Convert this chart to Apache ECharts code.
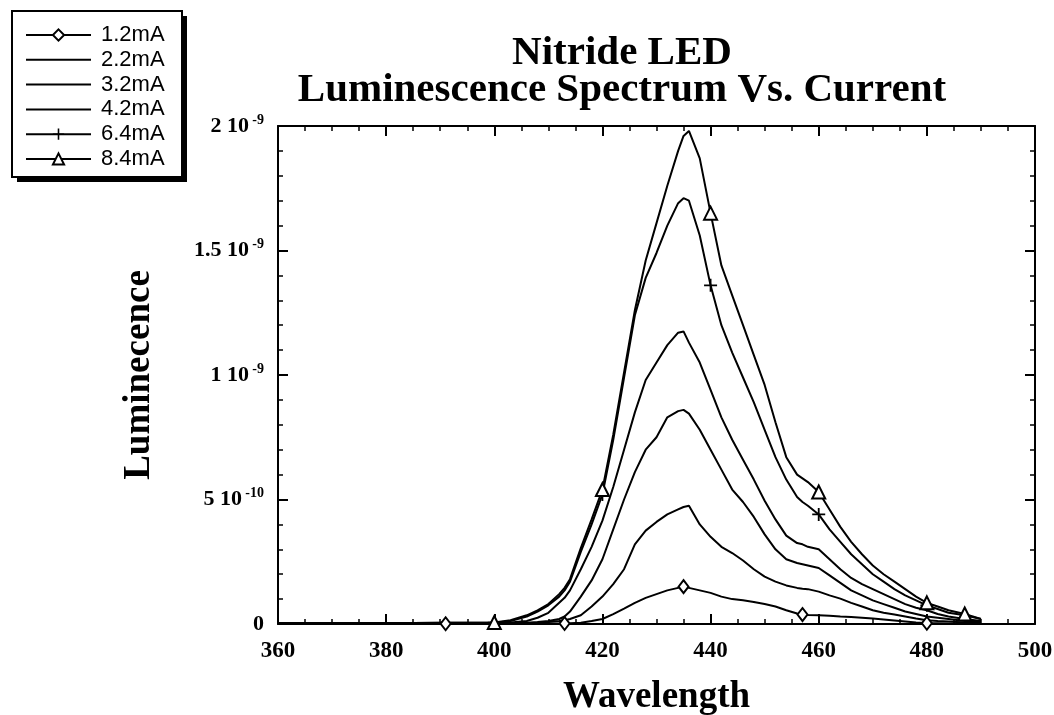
<!DOCTYPE html>
<html><head><meta charset="utf-8">
<script src="https://cdn.jsdelivr.net/npm/echarts@6/dist/echarts.min.js"></script>
<style>html,body{margin:0;padding:0;background:#fff}#c{width:1054px;height:715px}</style>
</head><body><div id="c"></div>
<script>
// Wavelength grid (nm)
const wavelengths = [360,365,370,375,380,385,391,395,400,
  403,406,408,410,412,413,414,416,418,420,
  422,424,426,428,430,432,434,435,436,438,
  440,442,444,446,448,450,452,454,456,457,
  458,460,462,464,466,468,470,472,474,476,
  478,480,482,484,487,490];

// Luminescence values in units of 1e-10
const lum12 = [0.01,0.01,0.01,0.01,0.01,0.01,0.01,0.01,0.01,
  0.01,0.01,0.01,0.02,0.02,0.02,0.03,0.05,0.12,0.2,
  0.4,0.62,0.85,1.05,1.2,1.35,1.45,1.5,1.45,1.35,
  1.25,1.1,1.0,0.95,0.88,0.8,0.7,0.55,0.42,0.38,
  0.36,0.35,0.33,0.3,0.28,0.25,0.22,0.18,0.14,0.1,
  0.06,0.03,0.03,0.02,0.02,0.02];
const lum22 = [0.02,0.02,0.02,0.02,0.02,0.02,0.02,0.02,0.02,
  0.02,0.03,0.05,0.08,0.12,0.15,0.2,0.35,0.7,1.1,
  1.6,2.2,3.2,3.75,4.1,4.4,4.6,4.7,4.75,4.0,
  3.5,3.1,2.85,2.55,2.2,1.9,1.7,1.55,1.45,1.42,
  1.4,1.3,1.15,1.02,0.85,0.7,0.55,0.45,0.38,0.3,
  0.22,0.15,0.12,0.1,0.06,0.04];
const lum32 = [0.02,0.02,0.02,0.02,0.02,0.02,0.02,0.02,0.02,
  0.03,0.05,0.08,0.12,0.2,0.3,0.5,1.1,1.75,2.6,
  3.8,5.0,6.1,7.0,7.5,8.3,8.55,8.6,8.45,7.8,
  7.0,6.2,5.4,4.9,4.3,3.6,3.0,2.6,2.45,2.4,
  2.35,2.25,1.95,1.65,1.35,1.15,0.95,0.8,0.65,0.5,
  0.4,0.3,0.25,0.2,0.12,0.08];
const lum42 = [0.02,0.02,0.02,0.02,0.03,0.03,0.03,0.03,0.03,
  0.06,0.12,0.25,0.45,0.85,1.05,1.35,2.2,3.1,4.15,
  5.5,7.0,8.5,9.8,10.5,11.2,11.7,11.75,11.3,10.5,
  9.4,8.3,7.4,6.6,5.8,4.95,4.2,3.55,3.25,3.2,
  3.1,3.0,2.6,2.2,1.85,1.6,1.4,1.2,1.0,0.8,
  0.65,0.55,0.4,0.3,0.2,0.12];
const lum64 = [0.03,0.03,0.03,0.03,0.04,0.04,0.05,0.05,0.05,
  0.12,0.3,0.5,0.75,1.1,1.35,1.7,2.9,4.0,5.2,
  7.4,9.9,12.4,13.9,14.9,16.0,16.9,17.1,17.0,15.6,
  13.6,12.0,10.9,9.9,8.9,7.8,6.7,5.8,5.1,4.9,
  4.75,4.4,3.8,3.3,2.8,2.4,2.0,1.7,1.4,1.15,
  0.95,0.75,0.6,0.45,0.35,0.2];
const lum84 = [0.03,0.03,0.03,0.03,0.04,0.04,0.05,0.05,0.06,
  0.15,0.35,0.55,0.8,1.2,1.45,1.8,3.05,4.2,5.4,
  7.6,10.1,12.6,14.6,16.1,17.6,19.0,19.6,19.8,18.7,
  16.5,14.4,13.2,12.0,10.8,9.6,8.1,6.7,6.0,5.85,
  5.7,5.3,4.6,3.9,3.3,2.8,2.35,2.0,1.7,1.4,
  1.1,0.85,0.7,0.55,0.4,0.2];

const seriesNames = ['1.2mA','2.2mA','3.2mA','4.2mA','6.4mA','8.4mA'];
// wavelengths where the markers are drawn
const marks12 = [391,413,435,457,480];
const marks64 = [400,420,440,460,480];
const marks84 = [400,420,440,460,480,487];

const xTickValues = [360,380,400,420,440,460,480,500];
const yTickLabels = {0:['0',''],5:['5 10','-10'],10:['1 10','-9'],15:['1.5 10','-9'],20:['2 10','-9']};

const serif = 'Liberation Serif';
const crossPath = 'path://M4.3,0h1.4v4.3h4.3v1.4h-4.3v4.3h-1.4v-4.3h-4.3v-1.4h4.3z';

function buildData(vals, marks) {
  return wavelengths.map((w, i) => (marks && marks.includes(w))
    ? [w, vals[i]]
    : { value: [w, vals[i]], symbol: 'none' });
}
function mkSeries(name, vals, symbol, size, marks) {
  return {
    name, type: 'line', symbol: symbol || 'none', symbolSize: size || 0,
    showSymbol: true, animation: false,
    lineStyle: { color: '#000', width: 2 },
    itemStyle: { color: '#000', borderColor: '#000', borderWidth: symbol === crossPath ? 0 : 2 },
    emphasis: { disabled: true },
    data: buildData(vals, marks)
  };
}

const chart = echarts.init(document.getElementById('c'), null, { renderer: 'canvas' });

const axisCommon = {
  type: 'value',
  axisLine: { show: true, onZero: false, lineStyle: { color: '#000', width: 2 } },
  axisTick: { show: true, inside: true, length: 10, lineStyle: { color: '#000', width: 2 } },
  minorTick: { show: true, length: 5, lineStyle: { color: '#000', width: 1.5 } },
  splitLine: { show: false },
  minorSplitLine: { show: false }
};

chart.setOption({
  backgroundColor: '#fff',
  animation: false,
  title: {
    text: 'Nitride LED\nLuminescence Spectrum Vs. Current',
    left: 617, top: 30, textAlign: 'center',
    textStyle: { fontFamily: serif, fontWeight: 'bold', fontSize: 41, lineHeight: 37, color: '#000' }
  },
  graphic: [
    { type: 'rect', z: 1, shape: { x: 17, y: 16, width: 170, height: 166 }, style: { fill: '#000' } },
    { type: 'rect', z: 2, shape: { x: 12, y: 11, width: 170, height: 166 }, style: { fill: '#fff', stroke: '#000', lineWidth: 2 } }
  ],
  legend: {
    left: 25, top: 24, orient: 'vertical', z: 10,
    itemWidth: 65, itemHeight: 14, itemGap: 2.8,
    padding: 0,
    selectedMode: false,
    textStyle: { fontFamily: 'Liberation Sans', fontSize: 22, lineHeight: 20, color: '#000', padding: [0, 0, 0, 5] },
    data: seriesNames.map(n => (n === '2.2mA' || n === '3.2mA' || n === '4.2mA')
      ? { name: n, itemStyle: { opacity: 0 } } : { name: n })
  },
  grid: { left: 278, right: 19, top: 126, bottom: 91, containLabel: false, outerBoundsMode: 'none' },
  xAxis: [
    Object.assign({}, axisCommon, {
      position: 'bottom', min: 360, max: 500, interval: 20,
      minorTick: Object.assign({}, axisCommon.minorTick, { splitNumber: 4 }),
      axisLabel: { show: true, margin: 16, color: '#000', fontFamily: serif, fontWeight: 'bold', fontSize: 23,
        formatter: v => xTickValues.includes(v) ? String(v) : '' },
      name: 'Wavelength', nameLocation: 'middle', nameGap: 55,
      nameTextStyle: { fontFamily: serif, fontWeight: 'bold', fontSize: 37, color: '#000' }
    }),
    Object.assign({}, axisCommon, {
      position: 'top', min: 360, max: 500, interval: 20,
      minorTick: Object.assign({}, axisCommon.minorTick, { splitNumber: 4 }),
      axisLabel: { show: false }
    })
  ],
  yAxis: [
    Object.assign({}, axisCommon, {
      position: 'left', min: 0, max: 20, interval: 5,
      minorTick: Object.assign({}, axisCommon.minorTick, { splitNumber: 5 }),
      axisLabel: {
        show: true, margin: 14, color: '#000',
        formatter: v => {
          const t = yTickLabels[Math.round(v)];
          if (!t) return '';
          return t[1] ? '{b|' + t[0] + '} {s|' + t[1] + '}' : '{b|' + t[0] + '}';
        },
        rich: {
          b: { fontFamily: serif, fontWeight: 'bold', fontSize: 22, lineHeight: 26, color: '#000' },
          s: { fontFamily: serif, fontWeight: 'bold', fontSize: 14, lineHeight: 26, verticalAlign: 'top', color: '#000' }
        }
      },
      name: 'Luminecence', nameLocation: 'middle', nameGap: 120,
      nameTextStyle: { fontFamily: serif, fontWeight: 'bold', fontSize: 37, color: '#000' }
    }),
    Object.assign({}, axisCommon, {
      position: 'right', min: 0, max: 20, interval: 5,
      minorTick: Object.assign({}, axisCommon.minorTick, { splitNumber: 5 }),
      axisLabel: { show: false }
    })
  ],
  series: [
    mkSeries('1.2mA', lum12, 'emptyDiamond', [10, 13], marks12),
    mkSeries('2.2mA', lum22),
    mkSeries('3.2mA', lum32),
    mkSeries('4.2mA', lum42),
    mkSeries('6.4mA', lum64, crossPath, 13, marks64),
    mkSeries('8.4mA', lum84, 'emptyTriangle', 13, marks84)
  ]
});
</script>
</body></html>
